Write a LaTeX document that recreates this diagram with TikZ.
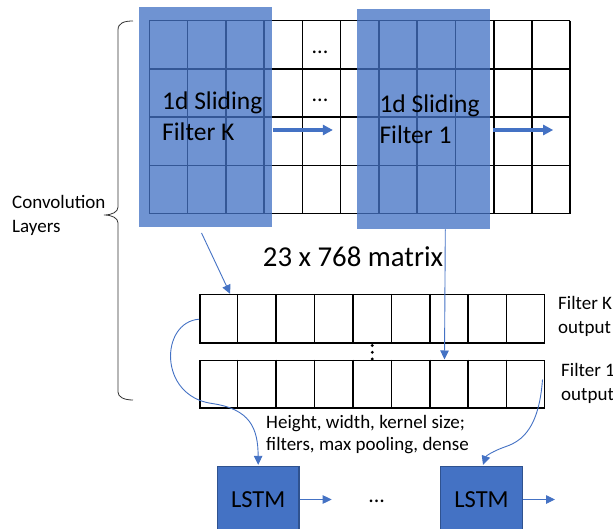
\documentclass[tikz,border=0pt]{standalone}
\usepackage{fontspec}
\setmainfont{Carlito}
\usetikzlibrary{arrows.meta,calc}
\definecolor{accent}{HTML}{4472C4}
\definecolor{accentdark}{HTML}{2F528F}

\begin{document}
\begin{tikzpicture}[x=1pt,y=-1pt,
  gridline/.style={draw=black,line width=1.6pt},
  slider/.style={rectangle,fill=accent,fill opacity=0.77,draw=none,
    minimum width=133pt,minimum height=220.5pt,inner sep=0pt},
  outrow/.style={rectangle,draw=black,line width=1.6pt,inner sep=0pt,
    minimum width=344.3pt,minimum height=48pt},
  lstm/.style={rectangle,fill=accent,draw=accentdark,line width=1.3pt,
    minimum width=81.7pt,minimum height=66pt,inner sep=0pt,
    font=\fontsize{24.5}{28}\selectfont},
  slidetext/.style={anchor=base west,inner sep=0pt,font=\fontsize{25.5}{30}\selectfont},
  plain/.style={anchor=base west,inner sep=0pt,font=\fontsize{19}{22}\selectfont},
  link/.style={draw=accent,line width=0.9pt,-{Triangle[length=9pt,width=8.5pt]}},
  slide/.style={draw=accent,line width=3.5pt,-{Triangle[length=10pt,width=10pt]}},
  dotsnode/.style={anchor=base,inner sep=0pt,font=\fontsize{22}{24}\selectfont}
]
\useasboundingbox (0,0) rectangle (613,529);
\clip (0,0) rectangle (613,529);

% input matrix: 11 columns x 4 rows
\foreach \i in {0,...,11}
  \draw[gridline] ({149.3+\i*38.27},20.7) -- ({149.3+\i*38.27},213.7);
\foreach \j in {0,...,4}
  \draw[gridline] (149.3,{20.7+\j*48.25}) -- (570.3,{20.7+\j*48.25});
\node[dotsnode] (dotsA) at (320,54) {...};
\node[dotsnode] (dotsB) at (320,102) {...};

% sliding filters
\node[slider] (filterK) at (205.2,117) {};
\node[slider] (filterA) at (423,119) {};
\node[slidetext] (txtK1) at (162,110) {1d Sliding};
\node[slidetext] (txtK2) at (162,141) {Filter K};
\node[slidetext] (txtA1) at (379.3,113) {1d Sliding};
\node[slidetext] (txtA2) at (379.3,143.5) {Filter 1};
\draw[slide] ($(filterK.east)+(1,13)$) coordinate (slK) -- ++(60,0) coordinate (slKend);
\draw[slide] ($(filterA.east)+(3.5,11)$) coordinate (slA) -- ++(60,0) coordinate (slAend);

% brace for the convolution stage
\draw[black!80,line width=0.8pt]
  (133,21) .. controls (124,21) and (118,23) .. (118,30) -- (118,207)
  .. controls (118,212) and (112,215) .. (104,215)
  .. controls (112,215) and (118,218) .. (118,223) -- (118,392)
  .. controls (118,397) and (124,400) .. (133,400);
\node[plain] (convA) at (12,209) {Convolution};
\node[plain] (convB) at (12,232.5) {Layers};

\node[anchor=base west,inner sep=0pt,font=\fontsize{28.8}{32}\selectfont] (matrix) at (262.7,266.7) {23 x 768 matrix};

% filter outputs
\node[outrow] (rowK) at (372.15,318.7) {};
\node[outrow,minimum height=47.4pt] (rowA) at (372.15,384) {};
\foreach \k in {1,...,8} {
  \draw[line width=1.6pt] ($(rowK.north west)!\k/9!(rowK.north east)$) -- ($(rowK.south west)!\k/9!(rowK.south east)$);
  \draw[line width=1.6pt] ($(rowA.north west)!\k/9!(rowA.north east)$) -- ($(rowA.south west)!\k/9!(rowA.south east)$);
}
\foreach \y in {345.5,352.3,359}
  \fill[black] (372.3,\y) circle (1.6pt);
\node[plain] (outK1) at (558,309.3) {Filter K};
\node[plain] (outK2) at (558,333.3) {output};
\node[plain] (outA1) at (561,376.7) {Filter 1};
\node[plain] (outA2) at (561,400) {output};

\node[plain] (hyp1) at (266,428.3) {Height, width, kernel size;};
\node[plain] (hyp2) at (266,450) {filters, max pooling, dense};

% recurrent part
\node[lstm] (lstmA) at (258.2,499.5) {LSTM};
\node[lstm] (lstmB) at (481.5,499.5) {LSTM};
\node[dotsnode] (lstmdots) at (376.7,502) {...};
\draw[link] (lstmA.east) -- ++(32,0) coordinate (lstmAout);
\draw[link] (lstmB.east) -- ++(32,0) coordinate (lstmBout);

% connectors
\draw[link] ($(filterK.south)+(-3.7,5.5)$) coordinate (fromK) -- ($(rowK.north west)+(31,0)$);
\draw[link] ($(filterA.south)+(22.3,0)$) coordinate (fromA) -- ($(rowA.north west)+(245.3,0)$);
\draw[link] ($(rowK.west)+(0,0.5)$) coordinate (startK)
  .. controls (160,322) and (158,396) .. (212,403.5)
  .. controls (250,409) and (258,428) .. ($(lstmA.north)+(0,-1)$);
\draw[link] ($(rowA.north east)+(-2.6,20)$) coordinate (startA)
  .. controls (539,428) and (522,441) .. (506,446.5)
  .. controls (493,451) and (486,456) .. ($(lstmB.north)+(1.5,-1)$);
\end{tikzpicture}
\end{document}
